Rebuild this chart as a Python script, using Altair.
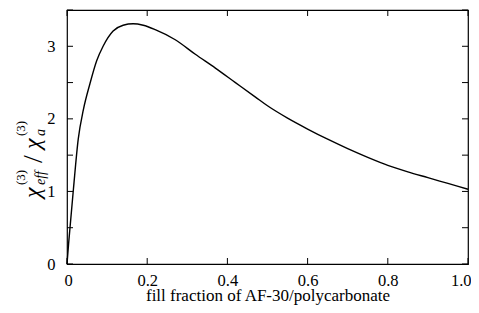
import altair as alt
import pandas as pd

# ---- data ----
fill_fraction = [0, 0.004, 0.016, 0.028, 0.041, 0.057, 0.074, 0.09, 0.115, 0.14,
                 0.165, 0.19, 0.22, 0.27, 0.32, 0.37, 0.42, 0.47, 0.5, 0.55,
                 0.6, 0.65, 0.7, 0.75, 0.8, 0.85, 0.9, 0.95, 1.0]
chi_ratio = [0, 0.28, 1.03, 1.72, 2.13, 2.48, 2.80, 3.00, 3.21, 3.29,
             3.31, 3.29, 3.23, 3.09, 2.89, 2.70, 2.50, 2.30, 2.18, 2.01,
             1.86, 1.72, 1.59, 1.47, 1.36, 1.27, 1.19, 1.11, 1.03]
x_ticks = [0, 0.2, 0.4, 0.6, 0.8, 1.0]
y_ticks = [0, 0.5, 1.0, 1.5, 2.0, 2.5, 3.0, 3.5]
y_labels = [0, 1, 2, 3]
x_title = "fill fraction of AF-30/polycarbonate"

W, H = 401, 254
FONT = "Liberation Serif"
TICK = 6

df = pd.DataFrame({"x": fill_fraction, "y": chi_ratio})
xt = pd.DataFrame({"x": x_ticks})
yt = pd.DataFrame({"y": y_ticks})

xscale = alt.Scale(domain=[0, 1], nice=False, zero=False)
yscale = alt.Scale(domain=[0, 3.5], nice=False, zero=False)

xaxis = alt.Axis(values=x_ticks, labelExpr="datum.value == 0 ? '0' : format(datum.value, '.1f')",
                 title=x_title, ticks=False, domain=False, grid=False,
                 labelFont=FONT, labelFontSize=16.5, labelColor="black", labelPadding=8,
                 labelFlush=True, labelFlushOffset=3,
                 titleFont=FONT, titleFontSize=17, titleFontWeight="normal",
                 titleColor="black", titleY=36, titleBaseline="alphabetic")
yaxis = alt.Axis(values=y_labels, format="d", title=None, ticks=False, domain=False,
                 grid=False, labelFont=FONT, labelFontSize=16.5, labelColor="black",
                 labelPadding=12, labelFlush=False)

X = alt.X("x:Q", scale=xscale, axis=xaxis)
Y = alt.Y("y:Q", scale=yscale, axis=yaxis)

line = alt.Chart(df).mark_line(color="black", strokeWidth=1.4, interpolate="monotone").encode(x=X, y=Y)

bottom_ticks = alt.Chart(xt).mark_rule(color="black", strokeWidth=1).encode(
    x=X, y=alt.value(H), y2=alt.value(H - TICK))
top_ticks = alt.Chart(xt).mark_rule(color="black", strokeWidth=1).encode(
    x=X, y=alt.value(0), y2=alt.value(TICK))
left_ticks = alt.Chart(yt).mark_rule(color="black", strokeWidth=1).encode(
    y=Y, x=alt.value(0), x2=alt.value(TICK))
right_ticks = alt.Chart(yt).mark_rule(color="black", strokeWidth=1).encode(
    y=Y, x=alt.value(W), x2=alt.value(W - TICK))

# composite rotated y-axis title: chi_eff^(3) / chi_a^(3)
AX, AY = -27, 188
pieces = [
    ("χ", 24, "italic", 0, 0),
    ("eff", 14, "italic", 13, 5),
    ("(3)", 13, "normal", 13, -15),
    ("/", 28, "normal", 35, 2),
    ("χ", 24, "italic", 49, 0),
    ("a", 14, "italic", 62, 5),
    ("(3)", 13, "normal", 62, -15),
]
one = alt.Data(values=[{"k": 1}])
title_layers = []
for txt, size, style, dx, dy in pieces:
    title_layers.append(
        alt.Chart(one).mark_text(text=txt, font=FONT, fontSize=size, fontStyle=style,
                                 angle=270, align="left", baseline="alphabetic",
                                 dx=dx, dy=dy, color="black")
        .encode(x=alt.value(AX), y=alt.value(AY))
    )

chart = alt.layer(line, bottom_ticks, top_ticks, left_ticks, right_ticks, *title_layers).properties(
    width=W, height=H,
    padding={"left": 59, "top": 2, "right": 3, "bottom": 41},
    autosize=alt.AutoSizeParams(type="none"),
    background="white",
).configure_view(stroke="black", strokeWidth=1.2).configure_axis(
    labelFont=FONT, titleFont=FONT
)

chart.save("out.html", embed_options={"renderer": "svg", "actions": False})
